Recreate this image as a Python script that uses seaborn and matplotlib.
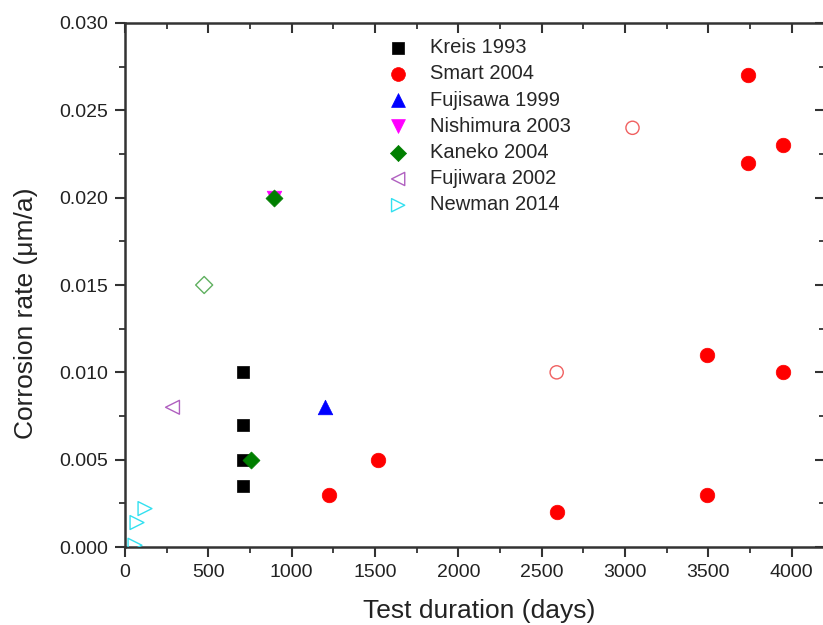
import matplotlib
matplotlib.use("Agg")
import matplotlib.pyplot as plt
from matplotlib.ticker import MultipleLocator, FormatStrFormatter
import seaborn as sns
import pandas as pd

sns.set_theme(style="white")
plt.rcParams["font.family"] = ["Liberation Sans", "DejaVu Sans"]

# Corrosion rate (um/a) versus test duration (days), by study
kreis_x = [710, 710, 710, 710]
kreis_y = [0.010, 0.007, 0.005, 0.0035]

smart_x = [1222, 1520, 2590, 3490, 3490, 3740, 3740, 3945, 3945]
smart_y = [0.003, 0.005, 0.002, 0.003, 0.011, 0.027, 0.022, 0.023, 0.010]
smart_open_x = [2590, 3045]
smart_open_y = [0.010, 0.024]

fujisawa_x = [1200]
fujisawa_y = [0.008]

nishimura_x = [895]
nishimura_y = [0.020]

kaneko_x = [895, 755]
kaneko_y = [0.020, 0.005]
kaneko_open_x = [475]
kaneko_open_y = [0.015]

fujiwara_x = [285]
fujiwara_y = [0.008]

newman_x = [120, 72, 60]
newman_y = [0.0022, 0.0014, 0.0001]

fig = plt.figure(figsize=(8.23, 6.25), dpi=100)
ax = fig.add_axes([125 / 823, 78 / 625, 700 / 823, 524 / 625])

def series(xs, ys, label, marker, color, size, filled=True, lw=1.0):
    df = pd.DataFrame({"x": xs, "y": ys})
    kw = dict(data=df, x="x", y="y", ax=ax, marker=marker, s=size,
              legend=False, zorder=3)
    if filled:
        sns.scatterplot(color=color, edgecolor=color, linewidth=0.5,
                        label=label, **kw)
    else:
        sns.scatterplot(facecolors="none", edgecolor=color, linewidth=lw,
                        label=label, **kw)

series(kreis_x, kreis_y, "Kreis 1993", "s", "black", 85)
series(smart_x, smart_y, "Smart 2004", "o", "#ff0000", 110)
series(smart_open_x, smart_open_y, None, "o", "#f06060", 90, filled=False)
series(fujisawa_x, fujisawa_y, "Fujisawa 1999", "^", "#0000ff", 110)
series(nishimura_x, nishimura_y, "Nishimura 2003", "v", "#ff00ff", 110)
series(kaneko_x, kaneko_y, "Kaneko 2004", "D", "#007f00", 75)
series(kaneko_open_x, kaneko_open_y, None, "D", "#5fb05f", 75, filled=False)
series(fujiwara_x, fujiwara_y, "Fujiwara 2002", "<", "#b060c0", 100, filled=False)
series(newman_x, newman_y, "Newman 2014", ">", "#33e0f0", 100, filled=False)

ax.set_xlim(0, 4200)
ax.set_ylim(0, 0.030)
ax.xaxis.set_major_locator(MultipleLocator(500))
ax.xaxis.set_minor_locator(MultipleLocator(250))
ax.yaxis.set_major_locator(MultipleLocator(0.005))
ax.yaxis.set_minor_locator(MultipleLocator(0.0025))
ax.yaxis.set_major_formatter(FormatStrFormatter("%.3f"))

spine_color = "#333333"
for sp in ax.spines.values():
    sp.set_visible(True)
    sp.set_color(spine_color)
    sp.set_linewidth(1.8)

ax.tick_params(axis="both", which="both", colors=spine_color,
               labelcolor="#222222", labelsize=14)
ax.tick_params(which="major", length=7, width=1.5)
ax.tick_params(which="minor", length=4, width=1.3)
ax.tick_params(axis="x", which="both", bottom=True, top=False, direction="out", pad=5)
ax.tick_params(axis="y", which="both", left=True, right=False, direction="out", pad=5)

# Mirrored inward ticks on the top and right edges
top = ax.secondary_xaxis("top")
top.xaxis.set_major_locator(MultipleLocator(500))
top.xaxis.set_minor_locator(MultipleLocator(250))
top.tick_params(which="both", direction="in", labeltop=False, colors=spine_color)
top.tick_params(which="major", length=7, width=1.5)
top.tick_params(which="minor", length=4, width=1.3)
top.spines["top"].set_visible(False)
right = ax.secondary_yaxis("right")
right.yaxis.set_major_locator(MultipleLocator(0.005))
right.yaxis.set_minor_locator(MultipleLocator(0.0025))
right.tick_params(which="both", direction="in", labelright=False, colors=spine_color)
right.tick_params(which="major", length=7, width=1.5)
right.tick_params(which="minor", length=4, width=1.3)
right.spines["right"].set_visible(False)

ax.set_xlabel("Test duration (days)", fontsize=19, color="#222222")
ax.set_ylabel("Corrosion rate (\u03bcm/a)", fontsize=19, color="#222222")
ax.xaxis.set_label_coords(0.506, -0.100)
ax.yaxis.set_label_coords(-0.124, 0.447)

ax.legend(loc="upper left", bbox_to_anchor=(378 / 823, 1 - 38 / 625),
          bbox_transform=fig.transFigure, frameon=False, fontsize=14.5,
          handletextpad=0.6, labelspacing=0.36, borderaxespad=0,
          borderpad=0, markerscale=0.95)

fig.savefig("out.png", dpi=100)
